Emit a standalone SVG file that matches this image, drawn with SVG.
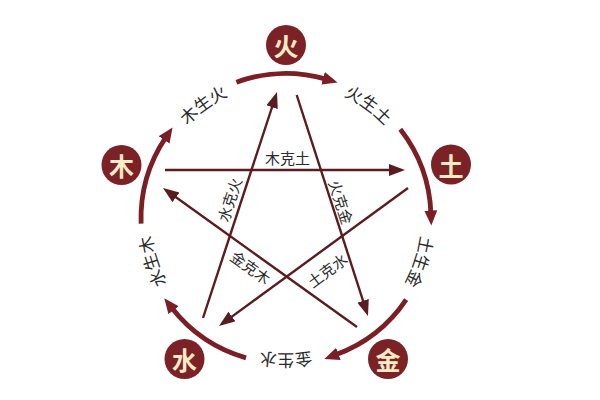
<svg xmlns="http://www.w3.org/2000/svg" width="600" height="400" viewBox="0 0 600 400">
<style>
.badge circle{fill:#7b2227}
.badge text{fill:#fcebc9;font-family:"Noto Sans CJK SC","Noto Sans CJK TC",sans-serif;font-weight:bold;font-size:25px;text-anchor:middle;dominant-baseline:central}
.arc{fill:none;stroke:#7a1f26;stroke-width:4.8;marker-end:url(#arcHead)}
.star{fill:none;stroke:#5a1c21;stroke-width:2.4;marker-end:url(#starHead)}
.lbl{fill:#2a2a2a;font-family:"Noto Sans CJK SC","Noto Sans CJK TC",sans-serif;font-size:17px;text-anchor:middle}
.slbl{fill:#2a2a2a;font-family:"Noto Sans CJK SC","Noto Sans CJK TC",sans-serif;font-size:15px;text-anchor:middle;dominant-baseline:central}
</style>
<defs>
<marker id="arcHead" markerUnits="userSpaceOnUse" markerWidth="16" markerHeight="14" refX="3" refY="6.5" orient="auto">
<path d="M0,0 L15,6.5 L0,13 z" fill="#7a1f26"/>
</marker>
<marker id="starHead" markerUnits="userSpaceOnUse" markerWidth="17" markerHeight="13" refX="6" refY="6" orient="auto">
<path d="M0,0 L16,6 L0,12 z" fill="#5a1c21"/>
</marker>
<path id="labelCircle" d="M286 83 A135.5 135.5 0 1 1 286 354 A135.5 135.5 0 1 1 286 83"/>
</defs>
<rect width="600" height="400" fill="#ffffff"/>
<g id="connectors">
<path class="arc" d="M236.4 82.2 A145 145 0 0 1 326.0 79.1"/>
<path class="arc" d="M400.3 129.2 A145 145 0 0 1 430.9 213.4"/>
<path class="arc" d="M406.2 299.6 A145 145 0 0 1 335.6 354.8"/>
<path class="arc" d="M246.0 357.9 A145 145 0 0 1 171.7 307.8"/>
<path class="arc" d="M141.1 223.6 A145 145 0 0 1 165.8 137.4"/>
<text class="lbl"><textPath href="#labelCircle" startOffset="765.8">木生火</textPath></text>
<text class="lbl"><textPath href="#labelCircle" startOffset="85.1">火生土</textPath></text>
<text class="lbl"><textPath href="#labelCircle" startOffset="255.4">土生金</textPath></text>
<text class="lbl"><textPath href="#labelCircle" startOffset="425.7">金生水</textPath></text>
<text class="lbl"><textPath href="#labelCircle" startOffset="596">水生木</textPath></text>
<line class="star" x1="165" y1="170" x2="395" y2="170"/>
<line class="star" x1="296.7" y1="95" x2="364.9" y2="306.5"/>
<line class="star" x1="408" y1="188" x2="227.1" y2="320.1"/>
<line class="star" x1="203" y1="318" x2="273.9" y2="101.5"/>
<line class="star" x1="357" y1="327" x2="171.1" y2="193.8"/>
<text class="slbl" transform="translate(287.5,157)">木克土</text>
<text class="slbl" transform="translate(341.5,202) rotate(72)">火克金</text>
<text class="slbl" transform="translate(327,270) rotate(-36.5)">土克水</text>
<text class="slbl" transform="translate(229,199.5) rotate(-71.8)">水克火</text>
<text class="slbl" transform="translate(251,267) rotate(35.6)">金克木</text>
</g>
<g id="node-fire" class="badge"><circle cx="286" cy="45" r="20"/><text x="286" y="45">火</text></g>
<g id="node-earth" class="badge"><circle cx="451" cy="164.5" r="20"/><text x="451" y="164.5">土</text></g>
<g id="node-metal" class="badge"><circle cx="388" cy="359" r="20"/><text x="388" y="359">金</text></g>
<g id="node-water" class="badge"><circle cx="184.5" cy="359" r="20"/><text x="184.5" y="359">水</text></g>
<g id="node-wood" class="badge"><circle cx="121.5" cy="165" r="20"/><text x="121.5" y="165">木</text></g>
</svg>
